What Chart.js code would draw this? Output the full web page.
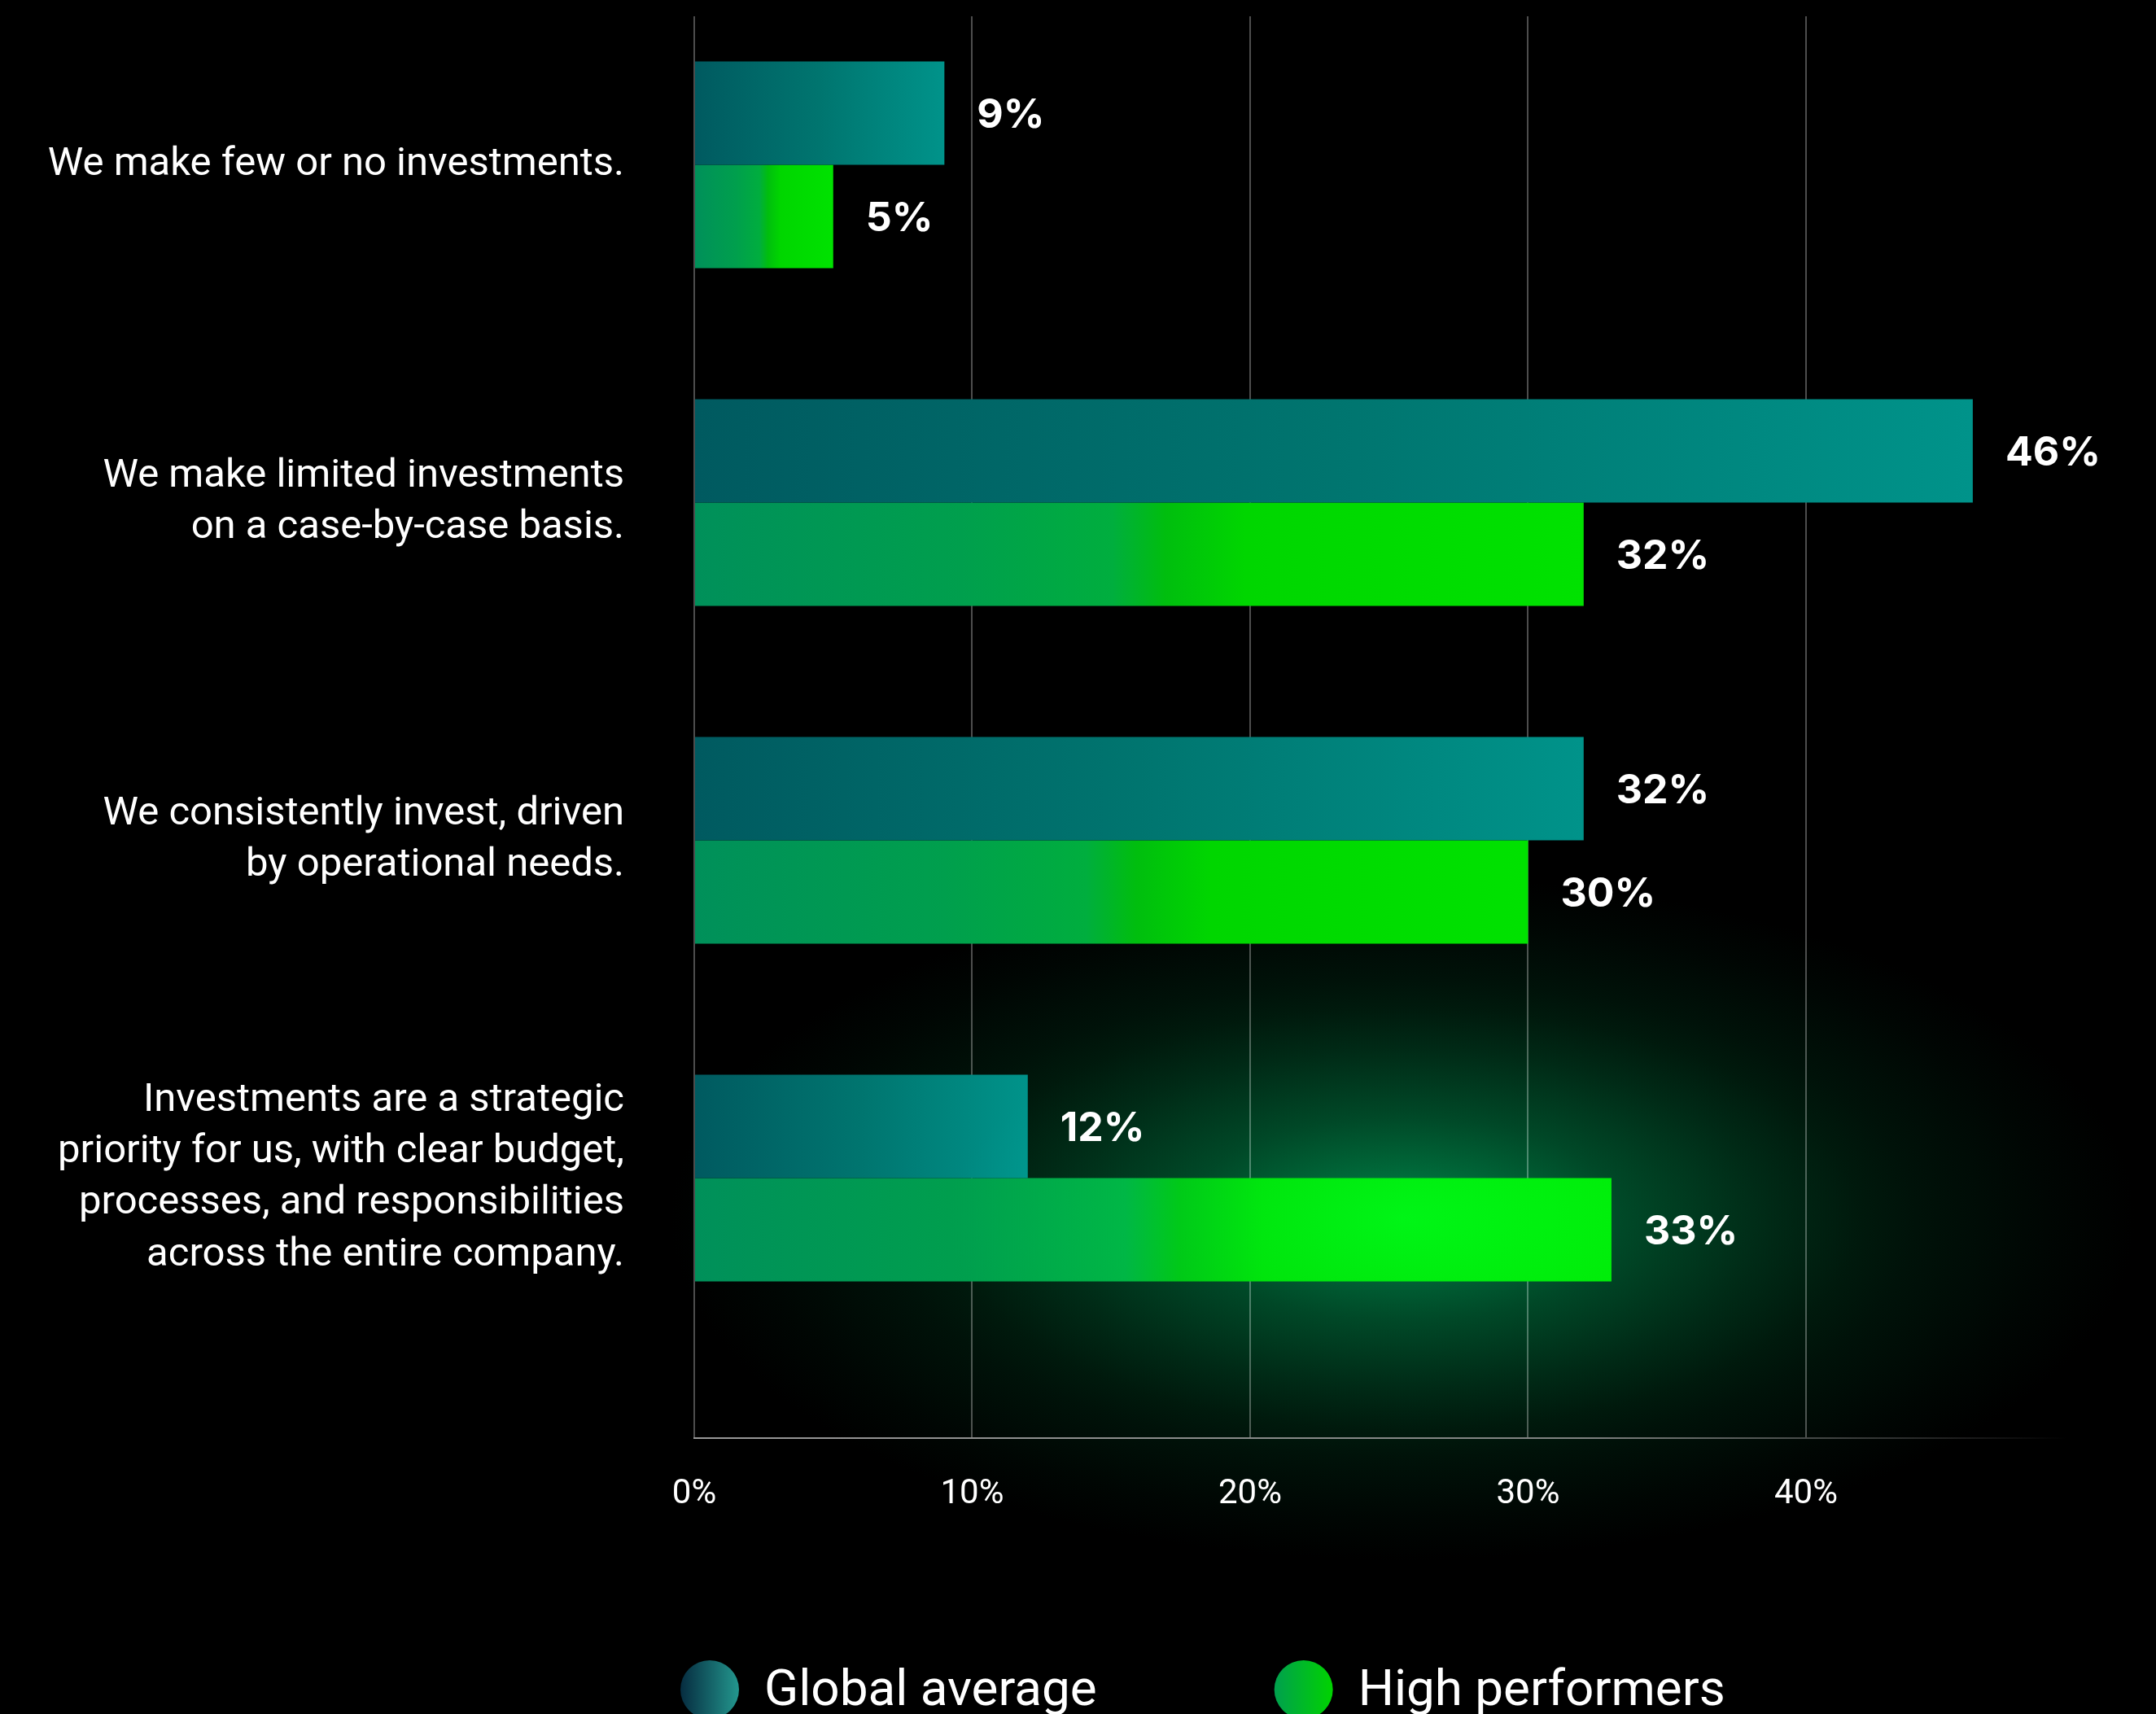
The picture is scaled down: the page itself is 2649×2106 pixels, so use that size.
<!DOCTYPE html>
<html>
<head>
<meta charset="utf-8">
<title>Investment approach: global average vs high performers</title>
<script src="https://cdn.jsdelivr.net/npm/chart.js@4/dist/chart.umd.min.js"></script>
<style>
  html, body { margin: 0; padding: 0; background: #000; overflow: hidden; }
  #wrap { width: 2649px; height: 2106px; position: relative; }
</style>
</head>
<body>
<div id="wrap"><canvas id="chart"></canvas></div>
<script>
// ---- data ----
const CATEGORIES = [
  ['We make few or no investments.'],
  ['We make limited investments', 'on a case-by-case basis.'],
  ['We consistently invest, driven', 'by operational needs.'],
  ['Investments are a strategic', 'priority for us, with clear budget,', 'processes, and responsibilities', 'across the entire company.']
];
const SERIES_NAMES = ['Global average', 'High performers'];
const GLOBAL_AVERAGE = [9, 46, 32, 12];
const HIGH_PERFORMERS = [5, 32, 30, 33];
const X_TICKS = [0, 10, 20, 30, 40];

// ---- styling ----
const TEAL_STOPS = [[0, '#005a60'], [0.5, '#00756f'], [1, '#00938a']];
const GREEN_STOPS = [[0, '#00905a'], [0.3, '#009f4d'], [0.47, '#00ae3e'], [0.53, '#00be0e'], [0.62, '#00d600'], [1, '#00e200']];
const KEY_TEAL = [[0, '#062c40'], [1, '#23978e']];
const KEY_GREEN = [[0, '#00a04e'], [1, '#00d300']];

function barFill(stops) {
  return (c) => {
    const chart = c.chart;
    if (!chart.chartArea || c.type !== 'data' || !c.parsed) return stops[stops.length - 1][1];
    const xs = chart.scales.x;
    const x0 = xs.getPixelForValue(0);
    const x1 = xs.getPixelForValue(c.parsed.x);
    const g = chart.ctx.createLinearGradient(x0, 0, x1, 0);
    stops.forEach(([o, col]) => g.addColorStop(o, col));
    return g;
  };
}

function glowAt(chart, rx, ry, stops) {
  const { ctx, scales } = chart;
  const cx = scales.x.getPixelForValue(25.5);
  const cy = scales.y.getPixelForValue(3.12);
  ctx.translate(cx, cy);
  ctx.scale(1, ry / rx);
  const g = ctx.createRadialGradient(0, 0, 0, 0, 0, rx);
  stops.forEach(([o, col]) => g.addColorStop(o, col));
  ctx.fillStyle = g;
  ctx.fillRect(-rx, -rx, 2 * rx, 2 * rx);
}

// black backdrop with a soft green glow behind the lower group,
// plus a faint light pass over the bars in that group
const backdropGlow = {
  id: 'backdropGlow',
  beforeDraw(chart) {
    const { ctx, width, height } = chart;
    ctx.save();
    ctx.fillStyle = '#000';
    ctx.fillRect(0, 0, width, height);
    glowAt(chart, 900, 420, [
      [0, 'rgb(0,112,52)'],
      [0.12, 'rgb(0,88,42)'],
      [0.3, 'rgb(0,60,29)'],
      [0.5, 'rgb(0,37,18)'],
      [0.7, 'rgb(0,18,9)'],
      [0.88, 'rgb(0,6,3)'],
      [1, 'rgb(0,0,0)']
    ]);
    ctx.restore();
  },
  afterDatasetsDraw(chart) {
    const { ctx } = chart;
    ctx.save();
    ctx.globalCompositeOperation = 'lighter';
    glowAt(chart, 560, 260, [
      [0, 'rgba(0,26,22,1)'],
      [0.5, 'rgba(0,12,10,1)'],
      [1, 'rgba(0,0,0,1)']
    ]);
    ctx.restore();
  }
};

// percentage printed at the end of every bar
const valueLabels = {
  id: 'valueLabels',
  afterDatasetsDraw(chart) {
    const { ctx } = chart;
    ctx.save();
    ctx.font = '700 50px Inter';
    ctx.fillStyle = '#ffffff';
    ctx.textAlign = 'left';
    ctx.textBaseline = 'middle';
    chart.data.datasets.forEach((ds, di) => {
      chart.getDatasetMeta(di).data.forEach((bar, i) => {
        ctx.fillText(ds.data[i].x + '%', bar.x + 40, bar.y + 3);
      });
    });
    ctx.restore();
  }
};

// series key below the axis: gradient dots with names
const seriesKey = {
  id: 'seriesKey',
  afterDraw(chart) {
    const { ctx, chartArea } = chart;
    const r = 36, gap = 31, spacing = 218;
    const cy = chartArea.bottom + 309;
    let x = chartArea.left - 17;
    ctx.save();
    ctx.font = '400 62px Roboto';
    ctx.textAlign = 'left';
    ctx.textBaseline = 'alphabetic';
    [KEY_TEAL, KEY_GREEN].forEach((stops, i) => {
      const g = ctx.createLinearGradient(x, 0, x + 2 * r, 0);
      stops.forEach(([o, col]) => g.addColorStop(o, col));
      ctx.fillStyle = g;
      ctx.beginPath();
      ctx.arc(x + r, cy, r, 0, Math.PI * 2);
      ctx.fill();
      const name = chart.data.datasets[i].label;
      ctx.fillStyle = '#ffffff';
      const tx = x + 2 * r + gap;
      ctx.fillText(name, tx, cy + 19);
      x = tx + ctx.measureText(name).width + spacing;
    });
    ctx.restore();
  }
};

const axisFade = (c) => {
  const s = c.scale;
  if (!s || !c.chart.chartArea) return 'rgba(150,150,150,0.9)';
  const g = c.chart.ctx.createLinearGradient(s.left, 0, s.right, 0);
  const f40 = (s.getPixelForValue(40) - s.left) / (s.right - s.left);
  g.addColorStop(0, 'rgba(160,160,160,0.95)');
  g.addColorStop(f40 * 0.8, 'rgba(150,150,150,0.85)');
  g.addColorStop(f40, 'rgba(140,140,140,0.5)');
  g.addColorStop(1, 'rgba(140,140,140,0)');
  return g;
};

new Chart(document.getElementById('chart'), {
  type: 'bar',
  data: {
    datasets: [
      {
        label: SERIES_NAMES[0],
        data: GLOBAL_AVERAGE.map((v, i) => ({ x: v, y: i })),
        backgroundColor: barFill(TEAL_STOPS)
      },
      {
        label: SERIES_NAMES[1],
        data: HIGH_PERFORMERS.map((v, i) => ({ x: v, y: i })),
        backgroundColor: barFill(GREEN_STOPS)
      }
    ]
  },
  options: {
    indexAxis: 'y',
    responsive: true,
    maintainAspectRatio: false,
    animation: false,
    devicePixelRatio: 1,
    categoryPercentage: 0.612,
    barPercentage: 1,
    borderWidth: 0,
    layout: { padding: { left: 0, right: 109, top: 20, bottom: 219 } },
    plugins: {
      legend: { display: false },
      tooltip: { enabled: false }
    },
    scales: {
      x: {
        type: 'linear',
        position: 'bottom',
        min: 0,
        max: 49.4,
        offset: false,
        afterBuildTicks: (s) => { s.ticks = X_TICKS.map((v) => ({ value: v })); },
        afterFit: (s) => { s.height = 120; s.paddingLeft = 0; s.paddingRight = 0; },
        ticks: {
          color: '#ffffff',
          font: { family: 'Roboto', size: 42 },
          padding: 44,
          maxRotation: 0,
          autoSkip: false,
          callback: (v) => v + '%'
        },
        grid: { color: 'rgba(255,255,255,0.3)', lineWidth: 2, drawTicks: false },
        border: { display: true, width: 2, color: axisFade }
      },
      y: {
        type: 'linear',
        reverse: true,
        offset: false,
        min: -0.44,
        max: 3.77,
        afterBuildTicks: (s) => { s.ticks = CATEGORIES.map((_, i) => ({ value: i })); },
        afterFit: (s) => { s.width = 853; s.paddingTop = 0; s.paddingBottom = 0; },
        ticks: {
          color: '#ffffff',
          font: { family: 'Roboto', size: 49, lineHeight: 1.29 },
          padding: 78,
          autoSkip: false,
          callback: (v) => CATEGORIES[v]
        },
        grid: { display: false, offset: false },
        border: { display: false }
      }
    }
  },
  plugins: [backdropGlow, valueLabels, seriesKey]
});
</script>
</body>
</html>
